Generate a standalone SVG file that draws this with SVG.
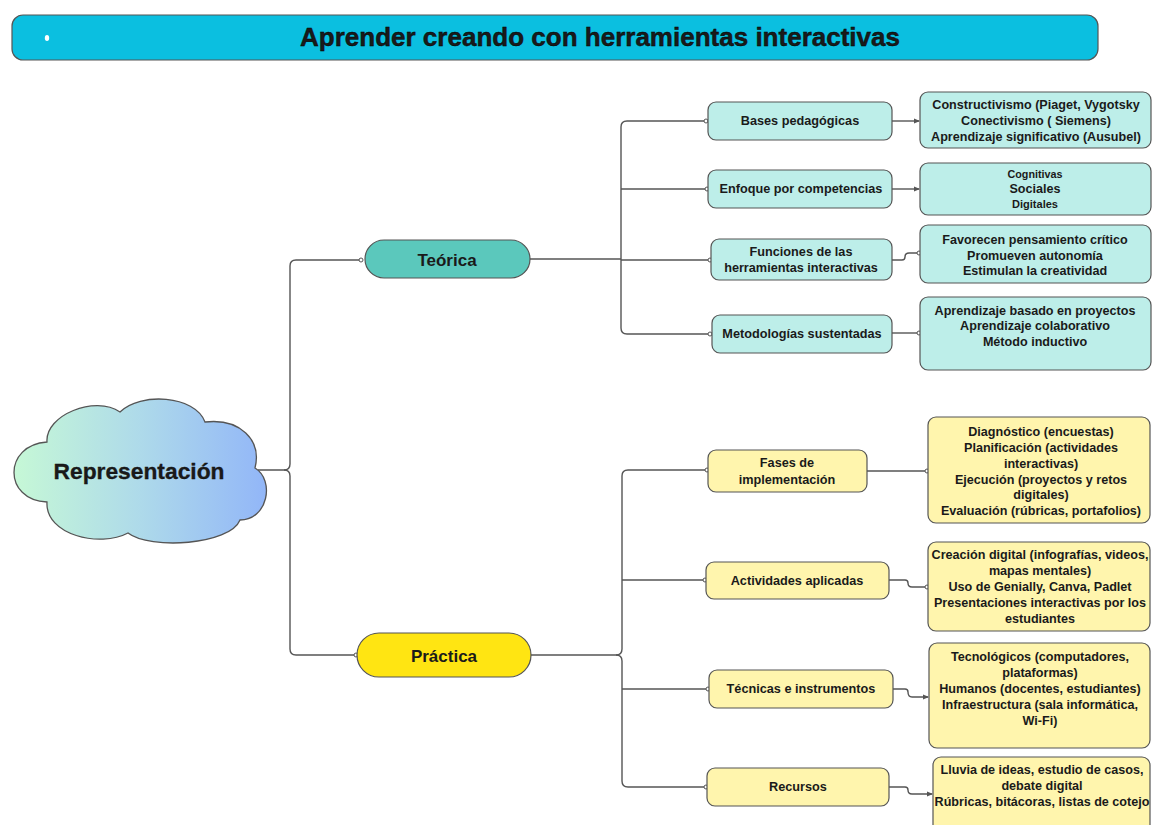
<svg xmlns="http://www.w3.org/2000/svg" width="1152" height="825" viewBox="0 0 1152 825">
<defs>
<linearGradient id="cloudGrad" x1="0" y1="0" x2="1" y2="0">
<stop offset="0" stop-color="#C6F8D6"/>
<stop offset="0.5" stop-color="#AEDAEA"/>
<stop offset="1" stop-color="#92B6F8"/>
</linearGradient>
<marker id="dot" viewBox="0 0 6 6" refX="3" refY="3" markerWidth="6" markerHeight="6" markerUnits="userSpaceOnUse">
<circle cx="3" cy="3" r="2" fill="#fff" stroke="#555" stroke-width="1"/>
</marker>
<marker id="arr" viewBox="0 0 6 6" refX="5" refY="3" markerWidth="6" markerHeight="6" markerUnits="userSpaceOnUse" orient="auto">
<path d="M0,0.5 L6,3 L0,5.5 Z" fill="#555"/>
</marker>
</defs>
<style>
.t{font-family:"Liberation Sans",Arial,sans-serif;font-weight:bold;fill:#1a1a1a;text-anchor:middle}
.n{font-size:12.7px}
.d{font-size:12.6px}
.c{fill:none;stroke:#555;stroke-width:1.4}
.teal{fill:#BDEEE9;stroke:#555;stroke-width:1.2}
.yel{fill:#FFF5AD;stroke:#555;stroke-width:1.2}
</style>
<rect width="1152" height="825" fill="#fff"/>

<g id="title">
<rect x="12" y="15" width="1086" height="45" rx="11" fill="#0BBFE0" stroke="#555" stroke-width="1.2"/>
<ellipse cx="47" cy="38" rx="2.2" ry="3" fill="#fff"/>
<text class="t" x="600" y="46" font-size="26" stroke="#000" stroke-width="0.4" textLength="600" lengthAdjust="spacingAndGlyphs">Aprender creando con herramientas interactivas</text>
</g>

<g id="connectors">
<path class="c" d="M258,470 H284 Q290,470 290,464 V266 Q290,260 296,260 H361" marker-end="url(#dot)"/>
<path class="c" d="M284,470 Q290,470 290,476 V649 Q290,655 296,655 H356" marker-end="url(#dot)"/>
<path class="c" d="M530,259 H621"/>
<path class="c" d="M706,121 H627 Q621,121 621,127 V328 Q621,334 627,334 H710" marker-end="url(#dot)"/>
<path class="c" d="M621,189 H707" marker-end="url(#dot)"/>
<path class="c" d="M621,260 H710" marker-end="url(#dot)"/>
<path class="c" d="M708,121 H706" marker-end="url(#dot)"/>
<path class="c" d="M531,655 H616 Q622,655 622,649 V476 Q622,470 628,470 H707" marker-end="url(#dot)"/>
<path class="c" d="M616,655 Q622,655 622,661 V781 Q622,787 628,787 H706" marker-end="url(#dot)"/>
<path class="c" d="M622,580 H705" marker-end="url(#dot)"/>
<path class="c" d="M622,689 H708" marker-end="url(#dot)"/>
<path class="c" d="M892,121 H919" marker-end="url(#arr)"/>
<path class="c" d="M892,189 H919" marker-end="url(#arr)"/>
<path class="c" d="M892,260 H902 Q905,260 905,257 Q905,253 909,253 H919" marker-end="url(#dot)"/>
<path class="c" d="M892,333 H919" marker-end="url(#dot)"/>
<path class="c" d="M867,471 H927" marker-end="url(#dot)"/>
<path class="c" d="M889,580 H905 Q908,580 908,583 Q908,587 912,587 H927" marker-end="url(#dot)"/>
<path class="c" d="M893,689 H905 Q908,689 908,692 Q908,697 912,697 H928" marker-end="url(#arr)"/>
<path class="c" d="M889,787 H905 Q908,787 908,790 Q908,794 912,794 H932" marker-end="url(#arr)"/>
</g>

<g id="representacion">
<path d="M47,442 C45,415 95,395 120,412 C140,392 195,395 205,422 C240,418 262,440 255,468 C275,480 268,520 240,520 C230,545 150,550 128,533 C100,548 45,535 47,502 C3,500 3,445 47,442 Z" fill="url(#cloudGrad)" stroke="#555" stroke-width="1.3"/>
<text class="t" x="139" y="479" font-size="22" stroke="#111" stroke-width="0.3" textLength="171" lengthAdjust="spacingAndGlyphs">Representación</text>
</g>

<g id="teorica">
<rect x="365" y="240" width="165" height="38" rx="19" fill="#5BC8BC" stroke="#555" stroke-width="1.2"/>
<text class="t" x="447" y="266" font-size="17">Teórica</text>
</g>
<g id="practica">
<rect x="357" y="633" width="174" height="44" rx="22" fill="#FFE512" stroke="#555" stroke-width="1.2"/>
<text class="t" x="444" y="662" font-size="17">Práctica</text>
</g>

<g id="bases">
<rect class="teal" x="708" y="102" width="184" height="38" rx="8"/>
<text class="t n" x="800" y="125">Bases pedagógicas</text>
</g>
<g id="enfoque">
<rect class="teal" x="708" y="170" width="184" height="38" rx="8"/>
<text class="t n" x="801" y="193">Enfoque por competencias</text>
</g>
<g id="funciones">
<rect class="teal" x="711" y="239" width="181" height="41" rx="8"/>
<text class="t n" x="801" y="256">Funciones de las</text>
<text class="t n" x="801" y="272">herramientas interactivas</text>
</g>
<g id="metodologias">
<rect class="teal" x="712" y="315" width="180" height="38" rx="8"/>
<text class="t n" x="802" y="338">Metodologías sustentadas</text>
</g>

<g id="bases-det">
<rect class="teal" x="920" y="92" width="231" height="56" rx="8"/>
<text class="t d" x="1036" y="109">Constructivismo (Piaget, Vygotsky</text>
<text class="t d" x="1036" y="125">Conectivismo ( Siemens)</text>
<text class="t d" x="1036" y="141">Aprendizaje significativo (Ausubel)</text>
</g>
<g id="enfoque-det">
<rect class="teal" x="920" y="163" width="231" height="52" rx="8"/>
<text class="t" x="1035" y="178" font-size="10" textLength="55" lengthAdjust="spacingAndGlyphs">Cognitivas</text>
<text class="t d" x="1035" y="193">Sociales</text>
<text class="t" x="1035" y="208" font-size="10" textLength="46" lengthAdjust="spacingAndGlyphs">Digitales</text>
</g>
<g id="funciones-det">
<rect class="teal" x="920" y="225" width="231" height="58" rx="8"/>
<text class="t d" x="1035" y="244">Favorecen pensamiento crítico</text>
<text class="t d" x="1035" y="260">Promueven autonomía</text>
<text class="t d" x="1035" y="275">Estimulan la creatividad</text>
</g>
<g id="metodologias-det">
<rect class="teal" x="920" y="297" width="231" height="73" rx="8"/>
<text class="t d" x="1035" y="315">Aprendizaje basado en proyectos</text>
<text class="t d" x="1035" y="330">Aprendizaje colaborativo</text>
<text class="t d" x="1035" y="346">Método inductivo</text>
</g>

<g id="fases">
<rect class="yel" x="708" y="450" width="159" height="42" rx="8"/>
<text class="t n" x="787" y="467">Fases de</text>
<text class="t n" x="787" y="484">implementación</text>
</g>
<g id="actividades">
<rect class="yel" x="706" y="562" width="183" height="37" rx="8"/>
<text class="t n" x="797" y="585">Actividades aplicadas</text>
</g>
<g id="tecnicas">
<rect class="yel" x="709" y="670" width="184" height="38" rx="8"/>
<text class="t n" x="801" y="693">Técnicas e instrumentos</text>
</g>
<g id="recursos">
<rect class="yel" x="707" y="768" width="182" height="38" rx="8"/>
<text class="t n" x="798" y="791">Recursos</text>
</g>

<g id="fases-det">
<rect class="yel" x="928" y="417" width="222" height="106" rx="8"/>
<text class="t d" x="1041" y="436">Diagnóstico (encuestas)</text>
<text class="t d" x="1041" y="452">Planificación (actividades</text>
<text class="t d" x="1041" y="468">interactivas)</text>
<text class="t d" x="1041" y="484">Ejecución (proyectos y retos</text>
<text class="t d" x="1041" y="499">digitales)</text>
<text class="t d" x="1041" y="515">Evaluación (rúbricas, portafolios)</text>
</g>
<g id="actividades-det">
<rect class="yel" x="928" y="542" width="222" height="89" rx="8"/>
<text class="t d" x="1040" y="559">Creación digital (infografías, videos,</text>
<text class="t d" x="1040" y="575">mapas mentales)</text>
<text class="t d" x="1040" y="591">Uso de Genially, Canva, Padlet</text>
<text class="t d" x="1040" y="607">Presentaciones interactivas por los</text>
<text class="t d" x="1040" y="623">estudiantes</text>
</g>
<g id="tecnicas-det">
<rect class="yel" x="929" y="643" width="221" height="105" rx="8"/>
<text class="t d" x="1040" y="661">Tecnológicos (computadores,</text>
<text class="t d" x="1040" y="677">plataformas)</text>
<text class="t d" x="1040" y="693">Humanos (docentes, estudiantes)</text>
<text class="t d" x="1040" y="709">Infraestructura (sala informática,</text>
<text class="t d" x="1040" y="725">Wi-Fi)</text>
</g>
<g id="recursos-det">
<rect class="yel" x="933" y="757" width="217" height="80" rx="8"/>
<text class="t d" x="1042" y="774">Lluvia de ideas, estudio de casos,</text>
<text class="t d" x="1042" y="790">debate digital</text>
<text class="t d" x="1042" y="806">Rúbricas, bitácoras, listas de cotejo</text>
</g>
</svg>
